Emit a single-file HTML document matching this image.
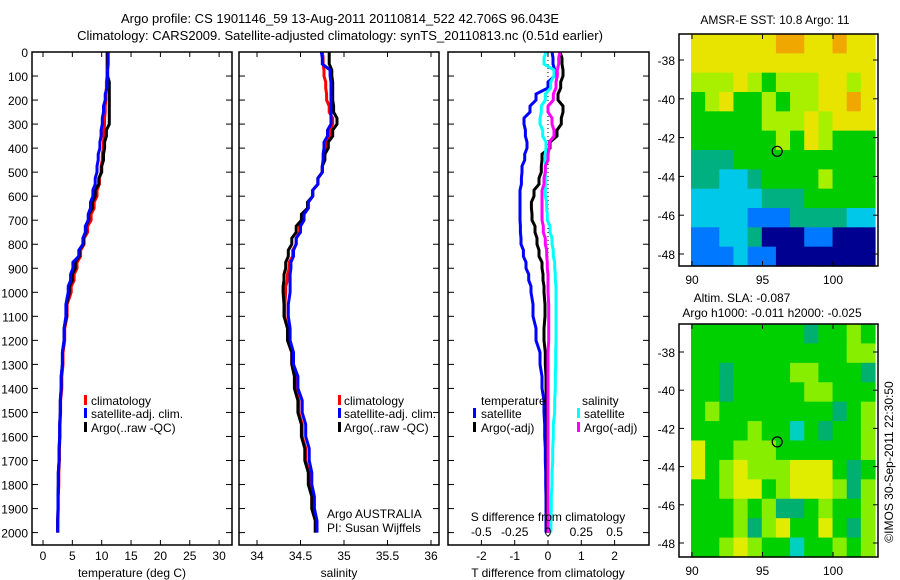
<!DOCTYPE html>
<html><head><meta charset="utf-8">
<style>
body{margin:0;background:#fff;}
svg{display:block;font-family:"Liberation Sans",sans-serif;font-size:12px;}
</style></head>
<body>
<svg id="fig" width="900" height="580" viewBox="0 0 900 580" xmlns="http://www.w3.org/2000/svg">
<rect x="0" y="0" width="900" height="580" fill="#fff"/>
<text x="340" y="23" text-anchor="middle" font-size="13">Argo profile: CS 1901146_59 13-Aug-2011 20110814_522 42.706S 96.043E</text>
<text x="340" y="40" text-anchor="middle" font-size="13">Climatology: CARS2009. Satellite-adjusted climatology: synTS_20110813.nc (0.51d earlier)</text>
<g id="p1"></g>
<g id="p2"></g>
<g id="p3"></g>
<g id="m1"></g>
<g id="m2"></g>
<text transform="translate(893,462) rotate(-90)" text-anchor="middle">©IMOS 30-Sep-2011 22:30:50</text>
</svg>
<script>
const depths = [0,50,100,150,200,250,300,350,400,450,500,550,600,650,700,750,800,850,900,950,1000,1100,1200,1300,1400,1500,1600,1700,1800,1900,2000];
const tempClim = [10.9,10.9,10.9,10.8,10.7,10.6,10.5,10.4,10.3,10.1,9.9,9.6,9.2,8.7,8.2,7.6,7.0,6.4,5.8,5.3,4.8,4.1,3.7,3.4,3.2,3.0,2.9,2.8,2.7,2.6,2.5];
const tempSat = [11.1,11.1,11.0,10.9,10.6,10.3,10.1,9.9,9.7,9.4,9.2,8.9,8.5,8.1,7.7,7.2,6.8,6.1,5.1,4.7,4.3,3.9,3.6,3.3,3.1,2.95,2.85,2.75,2.6,2.55,2.5];
const tempArgo = [11.0,11.0,11.0,11.3,11.3,11.3,11.3,10.8,10.5,10.3,10.0,9.5,8.9,8.4,7.8,7.3,6.9,6.2,5.5,5.0,4.5,4.0,3.6,3.3,3.1,2.95,2.85,2.75,2.6,2.55,2.5];
const salClim = [34.75,34.76,34.77,34.79,34.80,34.83,34.87,34.84,34.80,34.77,34.75,34.70,34.64,34.59,34.54,34.49,34.45,34.41,34.37,34.35,34.33,34.32,34.35,34.40,34.44,34.48,34.52,34.56,34.60,34.63,34.67];
const salSat = [34.74,34.75,34.84,34.85,34.85,34.85,34.85,34.81,34.77,34.76,34.75,34.70,34.64,34.59,34.54,34.50,34.45,34.42,34.39,34.38,34.38,34.36,34.38,34.42,34.47,34.52,34.56,34.60,34.63,34.66,34.69];
const salArgo = [34.83,34.83,34.86,34.87,34.87,34.88,34.92,34.87,34.82,34.78,34.75,34.70,34.64,34.58,34.51,34.45,34.40,34.36,34.33,34.31,34.30,34.31,34.35,34.40,34.43,34.47,34.51,34.55,34.59,34.63,34.67];
const dTSat = [0.12,0.15,0.2,0.0,-0.36,-0.54,-0.72,-0.68,-0.63,-0.7,-0.78,-0.8,-0.84,-0.84,-0.84,-0.83,-0.81,-0.74,-0.66,-0.58,-0.51,-0.45,-0.36,-0.24,-0.18,-0.12,-0.1,-0.08,-0.07,-0.06,-0.06];
const dTArgo = [0.36,0.42,0.45,0.38,0.3,0.45,0.4,0.27,0.06,-0.18,-0.2,-0.27,-0.42,-0.5,-0.48,-0.39,-0.33,-0.27,-0.18,-0.15,-0.12,-0.09,-0.12,-0.08,-0.06,-0.05,-0.03,-0.03,-0.02,-0.02,-0.02];
const dSSat = [-0.015,-0.03,0.045,0.02,-0.02,-0.05,-0.06,-0.04,-0.015,-0.02,-0.02,-0.02,-0.02,-0.01,-0.005,0.015,0.03,0.04,0.05,0.055,0.06,0.06,0.06,0.058,0.055,0.05,0.04,0.035,0.03,0.025,0.022];
const dSArgo = [0.09,0.08,0.07,0.06,0.04,0.0,0.03,0.045,0.01,0.0,-0.02,-0.03,-0.045,-0.045,-0.045,-0.035,-0.02,-0.01,-0.005,0.0,0.0,0.005,0.005,0.0,0.0,0.0,0.0,0.0,0.0,0.0,0.0];
const depthTicks = [0,100,200,300,400,500,600,700,800,900,1000,1100,1200,1300,1400,1500,1600,1700,1800,1900,2000];
const tTicks = [0,5,10,15,20,25,30];
const sTicks = [34,34.5,35,35.5,36];
const dTTicks = [-2,-1,0,1,2];
const dSTicks = [-0.5,-0.25,0,0.25,0.5];
const lonTicks = [90,95,100];
const latTicks = [-38,-40,-42,-44,-46,-48];
const sstGrid = [
"YYYYYYOOYYOYY","YYYYYYYYYYYYY","LLLYLGLLLYYLY","GLYGGLGLLYYOY","GGGGGLLLYLYYY","GGGGGGLGYLGGG",
"TTTGGGGGGGGGG","TTCCTGGGGLGGG","CCCCCTTTGGGGG","CCCCBBBTTTTCC","BBCCTDDDBBDDD","BBBCBBDDDDDDD"];
const slaGrid = [
"GGGGGGGGTGGLG","GGGGGGGGGGGLL","GGTGGGGLLGGGT","GGTGGGGGLLGGG","GLGGGGGGGGTGL","GGGGLGGCGTGGL",
"YGGLLLGGGGGGL","YGLYLLLYYYGTG","GGLYYGLYYYLTL","GGGLGLTTGLGGL","GGGLTLYGGYGTL","GGLYLGGCGGLGL"];
const sstColors = {O:"#f0a800",Y:"#e8e400",L:"#a8f000",G:"#00cc00",T:"#00b080",C:"#00c8e8",B:"#0078ff",D:"#000090"};
const slaColors = {Y:"#e0ec00",L:"#88ee00",G:"#00d000",T:"#00b070",C:"#00d0c0"};
const argoLon = 96.043, argoLat = -42.706;

const NS="http://www.w3.org/2000/svg";
function mk(parent,tag,attrs){const e=document.createElementNS(NS,tag);for(const k in attrs)e.setAttribute(k,attrs[k]);parent.appendChild(e);return e;}
const Y0=52, YB=545, PXM=0.2403;
const yD = d => Y0 + d*PXM;
function frame(g,x0,x1,name){
  const r=mk(g,'rect',{x:x0,y:Y0,width:x1-x0,height:YB-Y0,fill:'none',stroke:'#000','stroke-width':1.5});
  
  
  depthTicks.forEach(d=>{
    mk(g,'line',{x1:x0,x2:x0+6,y1:yD(d),y2:yD(d),stroke:'#000'});
    mk(g,'line',{x1:x1-6,x2:x1,y1:yD(d),y2:yD(d),stroke:'#000'});
  });
}
function xTicks(g,ticks,xf,labels,ly){
  ticks.forEach((t,i)=>{
    const x=xf(t);
    mk(g,'line',{x1:x,x2:x,y1:Y0,y2:Y0+5,stroke:'#000'});
    mk(g,'line',{x1:x,x2:x,y1:YB-5,y2:YB,stroke:'#000'});
    const tx=mk(g,'text',{x:x,y:ly,'text-anchor':'middle'});tx.textContent=labels?labels[i]:t;
    
    
  });
}
function line(g,vals,xf,color,name,w){
  const pts=[];
  vals.forEach((v,i)=>{
    const x=xf(v).toFixed(1), y=yD(depths[i]).toFixed(1);
    if(i>0) pts.push(x+','+yD((depths[i-1]+depths[i])/2).toFixed(1));
    pts.push(x+','+y);
  });
  const p=mk(g,'polyline',{points:pts.join(' '),fill:'none',stroke:color,'stroke-width':w||3,'stroke-linejoin':'miter'});
  
  
}
function txt(g,x,y,s,name,anchor){const t=mk(g,'text',{x:x,y:y,'text-anchor':anchor||'start'});t.textContent=s;
  
  return t;}
function legMark(g,x,y,c,name){const r=mk(g,'rect',{x:x,y:y-10,width:3,height:10,fill:c});
  
  }

// Panel 1
const p1=document.getElementById('p1');
const xT=t=>43+t*5.87;
line(p1,tempClim,xT,'#f00','temp-climatology-line');
line(p1,tempArgo,xT,'#000','temp-argo-line');
line(p1,tempSat,xT,'#00f','temp-satellite-line');
frame(p1,32,232,'temperature');
depthTicks.forEach(d=>{txt(p1,28,yD(d)+5,String(d),'depth-tick-label','end');});
xTicks(p1,tTicks,xT,null,560);
txt(p1,132,577,'temperature (deg C)','x-axis-title','middle');
legMark(p1,84,405,'#f00','legend-climatology-marker');txt(p1,91,405,'climatology','legend-climatology');
legMark(p1,84,418,'#00f','legend-satellite-marker');txt(p1,91,418,'satellite-adj. clim.','legend-satellite');
legMark(p1,84,432,'#000','legend-argo-marker');txt(p1,91,432,'Argo(..raw -QC)','legend-argo');

// Panel 2
const p2=document.getElementById('p2');
const xS=s=>257+(s-34)*87;
line(p2,salClim,xS,'#f00','sal-climatology-line');
line(p2,salArgo,xS,'#000','sal-argo-line');
line(p2,salSat,xS,'#00f','sal-satellite-line');
frame(p2,239,439,'salinity');
xTicks(p2,sTicks,xS,null,560);
txt(p2,339,577,'salinity','x-axis-title','middle');
legMark(p2,338,405,'#f00','legend-climatology-marker');txt(p2,344,405,'climatology','legend-climatology');
legMark(p2,338,418,'#00f','legend-satellite-marker');txt(p2,344,418,'satellite-adj. clim.','legend-satellite');
legMark(p2,338,432,'#000','legend-argo-marker');txt(p2,344,432,'Argo(..raw -QC)','legend-argo');
txt(p2,327,518,'Argo AUSTRALIA','credit-agency');
txt(p2,327,532,'PI: Susan Wijffels','credit-pi');

// Panel 3
const p3=document.getElementById('p3');
const xDT=t=>548+t*33.3;
const xDS=s=>548+s*133.2;
const zl=mk(p3,'line',{x1:548,x2:548,y1:Y0,y2:YB,stroke:'#000','stroke-dasharray':'1,3'});


line(p3,dTSat,xDT,'#00f','dT-satellite-line');
line(p3,dTArgo,xDT,'#000','dT-argo-line');
line(p3,dSSat,xDS,'#0ff','dS-satellite-line');
line(p3,dSArgo,xDS,'#f0f','dS-argo-line');
frame(p3,448,649,'difference');
xTicks(p3,dTTicks,xDT,null,560);
txt(p3,548,577,'T difference from climatology','x-axis-title','middle');
dSTicks.forEach((s,i)=>{txt(p3,xDS(s),536,['-0.5','-0.25','0','0.25','0.5'][i],'s-tick-label','middle');});
txt(p3,548,521,'S difference from climatology','s-axis-title','middle');
txt(p3,481,405,'temperature','legend-temperature-heading');
txt(p3,582,405,'salinity','legend-salinity-heading');
legMark(p3,473,418,'#00f','legend-dT-satellite-marker');txt(p3,481,418,'satellite','legend-dT-satellite');
legMark(p3,473,432,'#000','legend-dT-argo-marker');txt(p3,481,432,'Argo(-adj)','legend-dT-argo');
legMark(p3,577,418,'#0ff','legend-dS-satellite-marker');txt(p3,584,418,'satellite','legend-dS-satellite');
legMark(p3,577,432,'#f0f','legend-dS-argo-marker');txt(p3,584,432,'Argo(-adj)','legend-dS-argo');

// Maps
function drawMap(gid,top,bot,lat38,lat48,grid,colors,titles,name){
  const g=document.getElementById(gid);
  const dx0=691,dx1=875,nC=grid[0].length,nR=grid.length;
  const cw=(dx1-dx0)/nC,ch=(bot-top)/nR;
  grid.forEach((row,r)=>{for(let c=0;c<nC;c++){
    const cell=mk(g,'rect',{x:(dx0+c*cw).toFixed(2),y:(top+r*ch).toFixed(2),width:(cw+0.6).toFixed(2),height:(ch+0.6).toFixed(2),fill:colors[row[c]]});
    
    
  }});
  const fr=mk(g,'rect',{x:679,y:top,width:199,height:bot-top,fill:'none',stroke:'#000','stroke-width':1.5});
  
  
  const yL=lat=>lat38+(-38-lat)*(lat48-lat38)/10;
  const xL=lon=>692+(lon-90)*14.1;
  latTicks.forEach(l=>{const y=yL(l);mk(g,'line',{x1:679,x2:684,y1:y,y2:y,stroke:'#000'});mk(g,'line',{x1:873,x2:878,y1:y,y2:y,stroke:'#000'});
    txt(g,675,y+5,String(l),'lat-tick-label','end');});
  lonTicks.forEach(l=>{const x=xL(l);mk(g,'line',{x1:x,x2:x,y1:top,y2:top+5,stroke:'#000'});mk(g,'line',{x1:x,x2:x,y1:bot-5,y2:bot,stroke:'#000'});
    txt(g,x,bot+18,String(l),'lon-tick-label','middle');});
  const c=mk(g,'ellipse',{cx:xL(argoLon),cy:yL(argoLat),rx:5,ry:5,fill:'none',stroke:'#000','stroke-width':1.2});
  
  
  titles.forEach(t=>txt(g,t[1],t[2],t[0],name+'-title','middle'));
}
drawMap('m1',34,266,60,254,sstGrid,sstColors,[['AMSR-E SST: 10.8 Argo: 11',775,24]],'sst-map');
drawMap('m2',324,557,352,543,slaGrid,slaColors,[['Altim. SLA: -0.087',742,302],['Argo h1000: -0.011 h2000: -0.025',772,317]],'sla-map');
</script>
</body></html>
